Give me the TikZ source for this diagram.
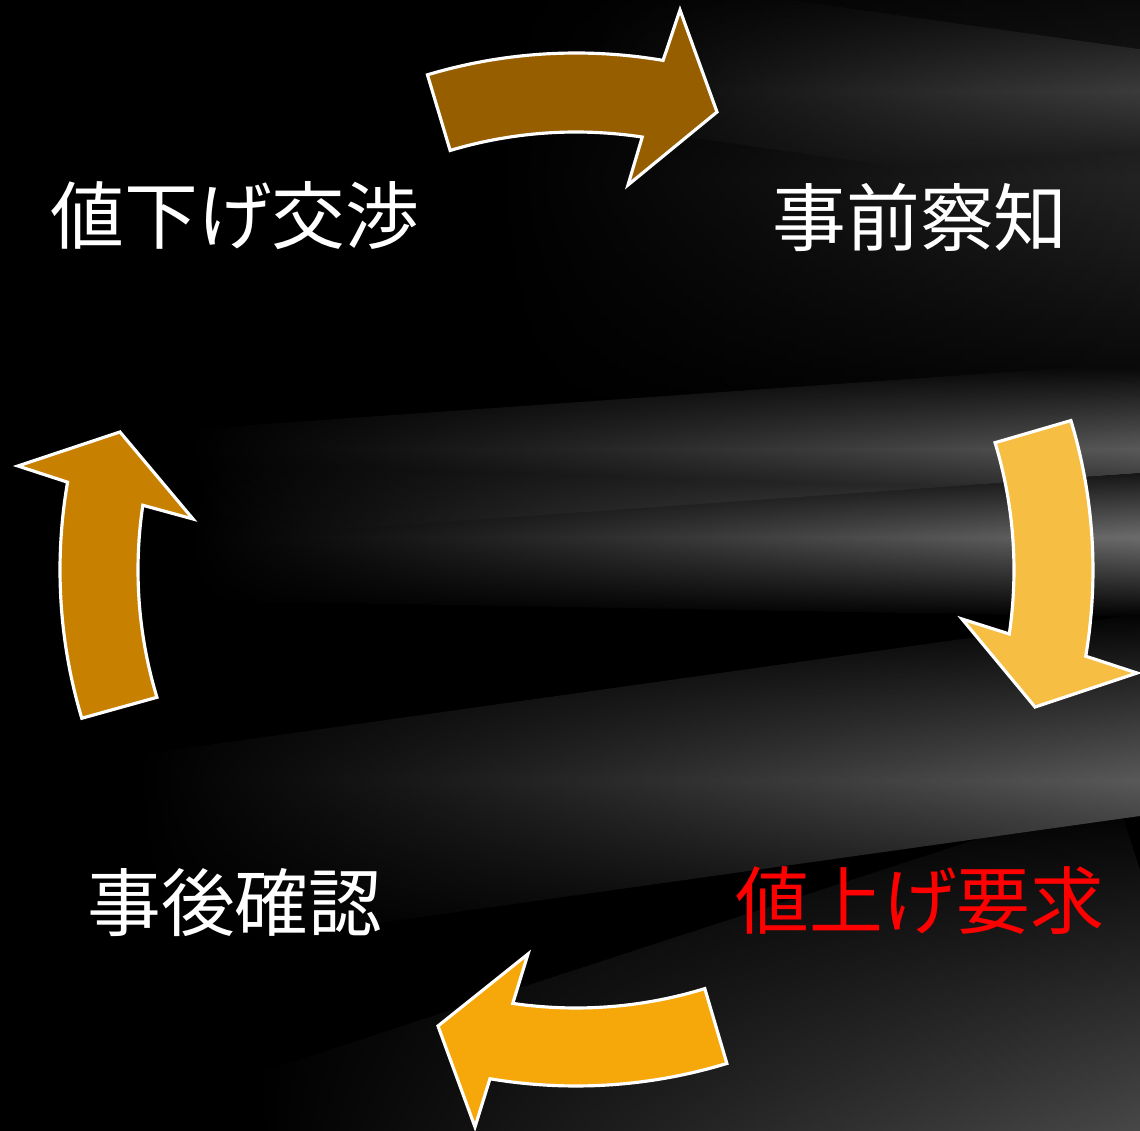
\documentclass[tikz,border=0pt]{standalone}
\usepackage{fontspec}
\usetikzlibrary{fadings}
\newfontfamily\jp{Noto Sans CJK JP}
\definecolor{arTop}{RGB}{151,94,0}
\definecolor{arRight}{RGB}{246,190,66}
\definecolor{arBottom}{RGB}{246,168,11}
\definecolor{arLeft}{RGB}{200,128,0}
\definecolor{txtRed}{RGB}{255,0,0}
\tikzfading[name=hfade, left color=transparent!100, right color=transparent!0]
\tikzset{
  blockarrow/.style={draw=white, line width=1.8pt, line join=miter},
  label/.style={font=\jp\fontsize{42}{50}\selectfont, inner sep=0pt, anchor=center},
  glow/.style={top color=black, bottom color=black, middle color=#1, path fading=hfade, blend mode=lighten}
}
% soft light band: colour, right-end x, right-end y, length, half width, angle
\newcommand{\glowband}[6]{%
  \begin{scope}[shift={(#2,#3)}, rotate=#6]
    \shade[glow=#1] (-#4,-#5) rectangle (60,#5);
  \end{scope}%
}
\begin{document}
\begin{tikzpicture}[x=0.02cm, y=-0.02cm]
\useasboundingbox (0,0) rectangle (1140,1131);
% background
\fill[black] (0,0) rectangle (1140,1131);
\glowband{gray!30!black}{1140}{180}{650}{260}{0}
\glowband{gray!50!black}{1140}{125}{550}{75}{-8}
\glowband{gray!75!black}{1140}{1060}{850}{260}{18}
\glowband{gray!75!black}{1140}{715}{1000}{100}{8}
\glowband{gray!75!black}{1140}{418}{950}{55}{4}
\glowband{gray!90!black}{1140}{545}{950}{72}{-1}

% arrows (circle centre 576,570)
\draw[blockarrow, fill=arTop]
  plot[domain=-106.7:-80.3, samples=40] ({576+517*cos(\x)},{570+517*sin(\x)})
  -- (680,10) -- (717,112) -- (628,185)
  -- plot[domain=-81.3:-106.7, samples=40] ({576+438*cos(\x)},{570+438*sin(\x)}) -- cycle;
\draw[blockarrow, fill=arRight]
  plot[domain=-16.8:9.6, samples=40] ({576+517*cos(\x)},{570+517*sin(\x)})
  -- (1137,673) -- (1035,707) -- (962,619)
  -- plot[domain=8.4:-16.9, samples=40] ({576+438*cos(\x)},{570+438*sin(\x)}) -- cycle;
\draw[blockarrow, fill=arBottom]
  plot[domain=73:99.6, samples=40] ({576+516*cos(\x)},{570+516*sin(\x)})
  -- (475,1127) -- (438,1026) -- (528,954)
  -- plot[domain=98.3:72.9, samples=40] ({576+438*cos(\x)},{570+438*sin(\x)}) -- cycle;
\draw[blockarrow, fill=arLeft]
  plot[domain=163.3:189.8, samples=40] ({576+516*cos(\x)},{570+516*sin(\x)})
  -- (18,466) -- (120,432) -- (193,519)
  -- plot[domain=188.5:163.1, samples=40] ({576+438*cos(\x)},{570+438*sin(\x)}) -- cycle;

% labels
\node[label, text=white] (nesage) at (235,216) {値下げ交渉};
\node[label, text=white] (jizen) at (920,217) {事前察知};
\node[label, text=txtRed] (neage) at (920,901) {値上げ要求};
\node[label, text=white] (jigo) at (235,903) {事後確認};
\end{tikzpicture}
\end{document}
